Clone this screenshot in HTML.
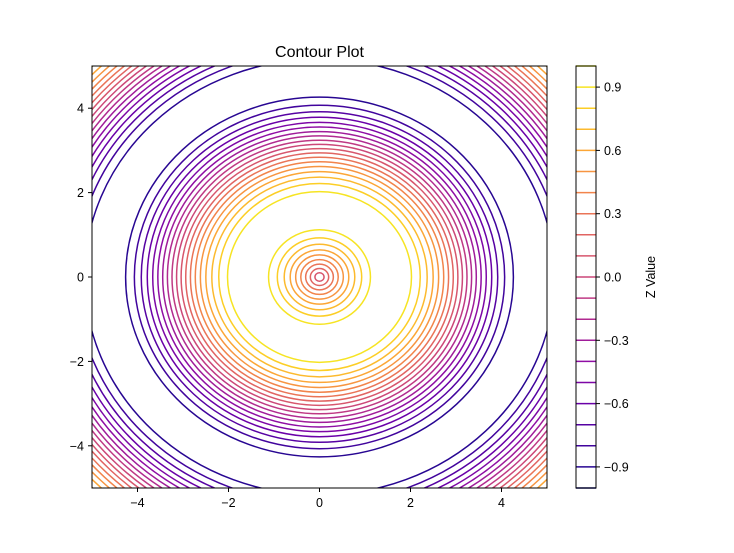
<!DOCTYPE html>
<html><head><meta charset="utf-8"><style>
body{margin:0;background:#fff;}
svg{font-family:"Liberation Sans","DejaVu Sans",sans-serif;}
</style></head><body>
<svg id="chart" width="734" height="548" viewBox="0 0 734 548">
<defs><clipPath id="pc"><rect x="92" y="66" width="455" height="422"/></clipPath></defs>
<rect x="0" y="0" width="734" height="548" fill="#fff"/>
<text x="319.5" y="57" text-anchor="middle" font-size="16">Contour Plot</text>
<g id="contours" clip-path="url(#pc)"></g>
<rect x="92" y="66" width="455" height="422" fill="none" stroke="#000" stroke-width="1"/>
<g id="axes" font-size="12.5"></g>
<g id="cbar"></g>
<text transform="translate(655,277) rotate(-90)" text-anchor="middle" font-size="12.5">Z Value</text>
</svg>
<script>
const levels=[-1.0,-0.9,-0.8,-0.7,-0.6,-0.5,-0.4,-0.3,-0.2,-0.1,0.0,0.1,0.2,0.3,0.4,0.5,0.6,0.7,0.8,0.9,1.0];
const xTicks=[-4,-2,0,2,4];
const yTicks=[-4,-2,0,2,4];
const cbTicks=[-0.9,-0.6,-0.3,0.0,0.3,0.6,0.9];
const xDomain=[-5,5], yDomain=[-5,5];

const NS="http://www.w3.org/2000/svg";
const X0=92,X1=547,Y0=66,Y1=488;
const sx=v=>X0+(v-xDomain[0])/(xDomain[1]-xDomain[0])*(X1-X0);
const sy=v=>Y1-(v-yDomain[0])/(yDomain[1]-yDomain[0])*(Y1-Y0);
const lmin=levels[0],lmax=levels[levels.length-1];
const CB0=66,CB1=488;
const cy=v=>CB1-(v-lmin)/(lmax-lmin)*(CB1-CB0);
const stops=["#0d0887","#41049d","#6a00a8","#8f0da4","#b12a90","#cc4778","#e16462","#f2844b","#fca636","#fcce25","#f0f921"];
function hx(c){return [1,3,5].map(i=>parseInt(c.substr(i,2),16));}
function plasma(t){t=Math.max(0,Math.min(1,t));const f=t*10,i=Math.min(9,Math.floor(f)),u=f-i;
 const a=hx(stops[i]),b=hx(stops[i+1]);return "rgb("+a.map((v,k)=>Math.round(v+(b[k]-v)*u)).join(",")+")";}
function mk(tag,attrs,parent){const e=document.createElementNS(NS,tag);for(const k in attrs)e.setAttribute(k,attrs[k]);parent.appendChild(e);return e;}

const cg=document.getElementById('contours');
const rmax=Math.hypot(5,5);
levels.forEach(L=>{
  if(Math.abs(L)>=1) return;
  const a=Math.asin(L);
  const radii=[a,Math.PI-a,2*Math.PI+a,3*Math.PI-a].filter(r=>r>0&&r<=rmax+0.01);
  const col=plasma((L-lmin)/(lmax-lmin));
  radii.forEach(r=>{
    const e=mk('ellipse',{cx:sx(0),cy:sy(0),rx:Math.abs(sx(r)-sx(0)),ry:Math.abs(sy(r)-sy(0)),fill:'none',stroke:col,'stroke-width':1.5},cg);
    
    
  });
});

const ax=document.getElementById('axes');
xTicks.forEach(v=>{
  const l=mk('line',{x1:sx(v),x2:sx(v),y1:Y1,y2:Y1+4,stroke:'#000'},ax);
  
  const t=mk('text',{x:sx(v),y:Y1+19,'text-anchor':'middle'},ax);t.textContent=String(v).replace('-','\u2212');
  
});
yTicks.forEach(v=>{
  const l=mk('line',{x1:X0-4,x2:X0,y1:sy(v),y2:sy(v),stroke:'#000'},ax);
  
  const t=mk('text',{x:X0-8,y:sy(v)+4.5,'text-anchor':'end'},ax);t.textContent=String(v).replace('-','\u2212');
  
});

const cb=document.getElementById('cbar');
levels.forEach(L=>{
  const l=mk('line',{x1:576,x2:596,y1:cy(L),y2:cy(L),stroke:plasma((L-lmin)/(lmax-lmin)),'stroke-width':1.5},cb);
  
});
mk('rect',{x:576,y:CB0,width:20,height:CB1-CB0,fill:'none',stroke:'#000','stroke-width':1},cb);
cbTicks.forEach(v=>{
  const l=mk('line',{x1:596,x2:600,y1:cy(v),y2:cy(v),stroke:'#000'},cb);
  
  const t=mk('text',{x:604,y:cy(v)+4.5,'font-size':12.5},cb);t.textContent=v.toFixed(1).replace('-','\u2212');
  
});
</script>
</body></html>
